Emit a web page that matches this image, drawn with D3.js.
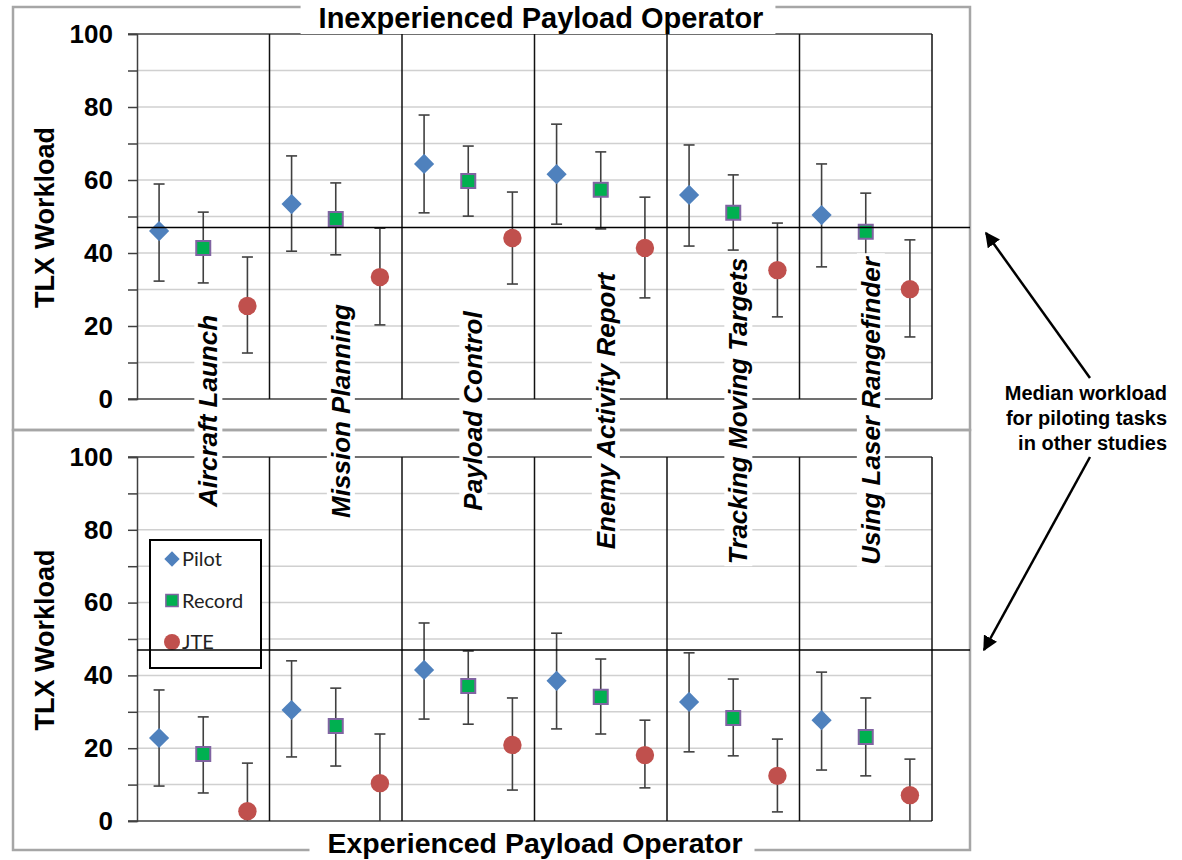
<!DOCTYPE html>
<html>
<head>
<meta charset="utf-8">
<script src="https://cdn.jsdelivr.net/npm/d3@7"></script>
<style>
  html, body { margin: 0; padding: 0; background: #fff; }
  svg { display: block; }
</style>
</head>
<body>
<svg id="chart" width="1182" height="860"></svg>
<script>
// ---------- DATA ----------
const categories = ["Aircraft Launch", "Mission Planning", "Payload Control",
  "Enemy Activity Report", "Tracking Moving Targets", "Using Laser Rangefinder"];
const seriesNames = ["Pilot", "Record", "JTE"];
const yTicks = [0, 10, 20, 30, 40, 50, 60, 70, 80, 90, 100];
const medianWorkload = 47;

// Inexperienced payload operator (top panel)
const inexpPilot    = [46.0, 53.4, 64.4, 61.6, 55.9, 50.4];
const inexpPilotLo  = [32.3, 40.5, 51.0, 47.9, 41.9, 36.2];
const inexpPilotHi  = [58.9, 66.6, 77.8, 75.3, 69.6, 64.4];
const inexpRecord   = [41.4, 49.3, 59.7, 57.3, 51.0, 45.8];
const inexpRecordLo = [31.8, 39.5, 50.1, 46.6, 40.8, 34.8];
const inexpRecordHi = [51.2, 59.2, 69.3, 67.7, 61.4, 56.4];
const inexpJTE      = [25.5, 33.4, 44.1, 41.4, 35.3, 30.1];
const inexpJTELo    = [12.6, 20.3, 31.5, 27.7, 22.5, 17.0];
const inexpJTEHi    = [38.9, 46.8, 56.7, 55.3, 48.2, 43.6];

// Experienced payload operator (bottom panel)
const expPilot    = [22.8, 30.5, 41.5, 38.5, 32.7, 27.7];
const expPilotLo  = [9.6, 17.6, 28.0, 25.3, 19.0, 14.0];
const expPilotHi  = [36.0, 44.0, 54.4, 51.6, 46.2, 40.9];
const expRecord   = [18.4, 26.1, 37.1, 34.1, 28.3, 23.1];
const expRecordLo = [7.7, 15.1, 26.6, 23.9, 17.9, 12.4];
const expRecordHi = [28.6, 36.5, 46.7, 44.5, 39.0, 33.8];
const expJTE      = [2.7, 10.4, 20.9, 18.1, 12.4, 7.1];
const expJTELo    = [-10.5, -3.0, 8.5, 9.1, 2.5, -3.0];
const expJTEHi    = [15.9, 23.9, 33.8, 27.7, 22.5, 17.0];

// ---------- BUILD ----------
function buildSeries(p, pl, ph, r, rl, rh, j, jl, jh) {
  const out = [];
  const sets = [["Pilot", p, pl, ph], ["Record", r, rl, rh], ["JTE", j, jl, jh]];
  sets.forEach(([name, m, lo, hi]) => {
    categories.forEach((c, i) => out.push({ cat: c, series: name, v: m[i], lo: lo[i], hi: hi[i] }));
  });
  return out;
}
const panels = [
  { title: "Inexperienced Payload Operator", top: 34, bottom: 399,
    data: buildSeries(inexpPilot, inexpPilotLo, inexpPilotHi, inexpRecord, inexpRecordLo, inexpRecordHi, inexpJTE, inexpJTELo, inexpJTEHi) },
  { title: "Experienced Payload Operator", top: 457, bottom: 821,
    data: buildSeries(expPilot, expPilotLo, expPilotHi, expRecord, expRecordLo, expRecordHi, expJTE, expJTELo, expJTEHi) }
];

const colors = { Pilot: "#4F81BD", Record: "#00B050", RecordStroke: "#8064A2", JTE: "#C0504D" };
const svg = d3.select("#chart");
const plotLeft = 137, plotRight = 932, outerLeft = 13, outerRight = 970;
const FONT = "Liberation Sans, Arial, sans-serif";

const xGroup = d3.scaleBand().domain(categories).range([plotLeft, plotRight]).padding(0);
const xSeries = d3.scaleBand().domain(seriesNames).range([0, xGroup.bandwidth()]).padding(0);
const xPos = d => xGroup(d.cat) + xSeries(d.series) + xSeries.bandwidth() / 2;

// outer frames
const frame = svg.append("g").attr("fill", "none").attr("stroke", "#a6a6a6").attr("stroke-width", 2.5);
frame.append("rect").attr("x", outerLeft).attr("y", 7).attr("width", outerRight - outerLeft).attr("height", 423);
frame.append("rect").attr("x", outerLeft).attr("y", 430).attr("width", outerRight - outerLeft).attr("height", 420);

const symDiamond = d3.symbol().type(d3.symbolDiamond2).size(260);
const symSquare = d3.symbol().type(d3.symbolSquare2).size(250);

panels.forEach((p, pi) => {
  const y = d3.scaleLinear().domain([0, 100]).range([p.bottom, p.top]);
  const g = svg.append("g");

  // gridlines
  g.append("g").selectAll("line").data(yTicks.filter(t => t > 0 && t < 100)).join("line")
    .attr("x1", plotLeft).attr("x2", plotRight)
    .attr("y1", d => y(d)).attr("y2", d => y(d))
    .attr("stroke", "#d0d0d0").attr("stroke-width", 1.5);

  // y axis
  const ax = g.append("g").attr("transform", `translate(${plotLeft},0)`)
    .call(d3.axisLeft(y).tickValues(yTicks).tickSize(9).tickPadding(15)
      .tickFormat(d => d % 20 === 0 ? d : ""));
  ax.select(".domain").attr("stroke", "#404040").attr("stroke-width", 1.5);
  ax.selectAll(".tick line").attr("stroke", "#404040").attr("stroke-width", 1.5);
  ax.selectAll(".tick text").attr("font-family", FONT)
    .attr("font-weight", "bold").attr("font-size", 26).attr("fill", "#000");

  // plot border top/bottom
  g.append("line").attr("x1", plotLeft - 9).attr("x2", plotRight).attr("y1", y(0)).attr("y2", y(0))
    .attr("stroke", "#404040").attr("stroke-width", 1.5);
  g.append("line").attr("x1", plotLeft - 9).attr("x2", plotRight).attr("y1", y(100)).attr("y2", y(100))
    .attr("stroke", "#404040").attr("stroke-width", 1.5);

  // group dividers
  g.append("g").selectAll("line").data(categories.slice(1).concat(["__end"])).join("line")
    .attr("x1", d => d === "__end" ? plotRight : xGroup(d))
    .attr("x2", d => d === "__end" ? plotRight : xGroup(d))
    .attr("y1", y(100)).attr("y2", y(0))
    .attr("stroke", "#111").attr("stroke-width", 1.5);

  // y label
  g.append("text").attr("transform", `translate(54,${(p.top + p.bottom) / 2 + 1}) rotate(-90)`)
    .attr("text-anchor", "middle").attr("font-family", FONT)
    .attr("font-weight", "bold").attr("font-size", 27).text("TLX Workload");

  // clip
  const clipId = "clip" + pi;
  svg.append("clipPath").attr("id", clipId).append("rect")
    .attr("x", plotLeft).attr("y", p.top).attr("width", plotRight - plotLeft).attr("height", p.bottom - p.top);

  // error bars
  const eb = g.append("g").attr("clip-path", `url(#${clipId})`).attr("stroke", "#404040").attr("stroke-width", 1.6);
  eb.selectAll("line.v").data(p.data).join("line").attr("class", "v")
    .attr("x1", xPos).attr("x2", xPos).attr("y1", d => y(d.lo)).attr("y2", d => y(d.hi));
  eb.selectAll("line.ch").data(p.data).join("line").attr("class", "ch")
    .attr("x1", d => xPos(d) - 5.5).attr("x2", d => xPos(d) + 5.5).attr("y1", d => y(d.hi)).attr("y2", d => y(d.hi));
  eb.selectAll("line.cl").data(p.data.filter(d => d.lo >= 0)).join("line").attr("class", "cl")
    .attr("x1", d => xPos(d) - 5.5).attr("x2", d => xPos(d) + 5.5).attr("y1", d => y(d.lo)).attr("y2", d => y(d.lo));

  // markers
  const mk = g.append("g");
  mk.selectAll("path.pilot").data(p.data.filter(d => d.series === "Pilot")).join("path").attr("class", "pilot")
    .attr("d", symDiamond).attr("transform", d => `translate(${xPos(d)},${y(d.v)})`)
    .attr("fill", colors.Pilot);
  mk.selectAll("path.record").data(p.data.filter(d => d.series === "Record")).join("path").attr("class", "record")
    .attr("d", symSquare).attr("transform", d => `translate(${xPos(d)},${y(d.v)})`)
    .attr("fill", colors.Record).attr("stroke", colors.RecordStroke).attr("stroke-width", 2);
  mk.selectAll("circle.jte").data(p.data.filter(d => d.series === "JTE")).join("circle").attr("class", "jte")
    .attr("cx", xPos).attr("cy", d => y(d.v)).attr("r", 9.2)
    .attr("fill", colors.JTE);

  p.y = y;
});

// titles with white backgrounds over frame
function titled(text, cx, baseline, size) {
  const gt = svg.append("g");
  const t = gt.append("text").attr("x", cx).attr("y", baseline).attr("text-anchor", "middle")
    .attr("font-family", FONT).attr("font-weight", "bold")
    .attr("font-size", size).text(text);
  const bb = t.node().getBBox();
  gt.insert("rect", "text").attr("x", bb.x - 18).attr("y", bb.y).attr("width", bb.width + 30).attr("height", bb.height)
    .attr("fill", "#fff");
}
titled(panels[0].title, 541, 28, 29);
titled(panels[1].title, 535, 853, 28.5);

// legend
const lg = svg.append("g");
lg.append("rect").attr("x", 150).attr("y", 540).attr("width", 111).attr("height", 128)
  .attr("fill", "#fff").attr("stroke", "#000").attr("stroke-width", 2);
const legendY = d3.scalePoint().domain(seriesNames).range([559, 642]);
seriesNames.forEach(s => {
  const yy = legendY(s);
  if (s === "Pilot") lg.append("path").attr("d", d3.symbol().type(d3.symbolDiamond2).size(150)).attr("transform", `translate(172,${yy})`).attr("fill", colors.Pilot);
  if (s === "Record") lg.append("path").attr("d", d3.symbol().type(d3.symbolSquare2).size(190)).attr("transform", `translate(172,${yy})`).attr("fill", colors.Record).attr("stroke", colors.RecordStroke).attr("stroke-width", 1.5);
  if (s === "JTE") lg.append("circle").attr("cx", 172).attr("cy", yy).attr("r", 8).attr("fill", colors.JTE);
  lg.append("text").attr("x", 182).attr("y", yy).attr("dy", "0.36em")
    .attr("font-family", "Lato, 'Open Sans', sans-serif").attr("font-size", 20).attr("fill", "#222").text(s);
});

// median lines
panels.forEach(p => {
  svg.append("line").attr("x1", plotLeft).attr("x2", outerRight).attr("y1", p.y(medianWorkload)).attr("y2", p.y(medianWorkload))
    .attr("stroke", "#000").attr("stroke-width", 1.5);
});

// category labels (rotated, white background)
categories.forEach(c => {
  const cx = xGroup(c) + xGroup.bandwidth() / 2 + 5;
  const gl = svg.append("g").attr("transform", `translate(${cx},411) rotate(-90)`);
  const t = gl.append("text").attr("x", 0).attr("y", 0).attr("text-anchor", "middle").attr("dy", "0.35em")
    .attr("font-family", FONT).attr("font-weight", "bold").attr("font-style", "italic")
    .attr("font-size", 26).text(c);
  const bb = t.node().getBBox();
  gl.insert("rect", "text").attr("x", bb.x - 2).attr("y", bb.y + 1).attr("width", bb.width + 4).attr("height", bb.height - 2)
    .attr("fill", "#fff");
});

// annotation
const ann = ["Median workload", "for piloting tasks", "in other studies"];
svg.append("g").selectAll("text").data(ann).join("text")
  .attr("x", 1167).attr("y", (d, i) => 400 + i * 25).attr("text-anchor", "end")
  .attr("font-family", FONT).attr("font-weight", "bold").attr("font-size", 20)
  .text(d => d);

const defs = svg.append("defs");
defs.append("marker").attr("id", "ah").attr("viewBox", "0 0 10 10").attr("refX", 9).attr("refY", 5)
  .attr("markerWidth", 6).attr("markerHeight", 6).attr("markerUnits", "strokeWidth").attr("orient", "auto")
  .append("path").attr("d", "M0,0 L10,5 L0,10 z").attr("fill", "#000");
const arrows = [[1090, 378, 986, 233], [1090, 457, 984, 650]];
svg.append("g").selectAll("line").data(arrows).join("line")
  .attr("x1", d => d[0]).attr("y1", d => d[1]).attr("x2", d => d[2]).attr("y2", d => d[3])
  .attr("stroke", "#000").attr("stroke-width", 2.5).attr("marker-end", "url(#ah)");
</script>
</body>
</html>
